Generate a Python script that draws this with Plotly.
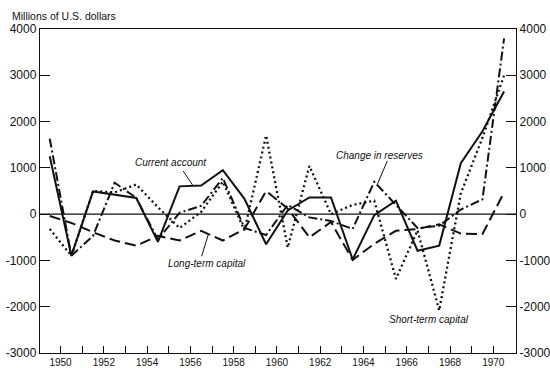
import plotly.graph_objects as go

years = list(range(1950, 1972))
current_account = [1250, -900, 490, 420, 350, -600, 600, 620, 950, 330, -650, 80,
                   360, 360, -980, -20, 290, -790, -680, 1100, 1790, 2650]
short_term = [-320, -900, 500, 470, 640, 150, -300, 50, 700, -350, 1700, -720,
              1040, 0, 200, 290, -1400, -350, -2080, 450, 1650, 3000]
reserves = [1630, -900, -470, 680, 350, -550, 30, 180, 780, -300, -450, 200,
            -70, -150, -320, 700, 200, -300, -250, 100, 320, 3800]
long_term = [-40, -190, -390, -570, -680, -470, -570, -360, -570, -320, 500, 120,
             -500, -170, -990, -640, -360, -320, -220, -420, -430, 470]

x = [y - 0.5 for y in years]
tick_years = list(range(1950, 1971))
tick_text = [str(t) if t % 2 == 0 else "" for t in tick_years]
y_ticks = list(range(-3000, 4001, 1000))
y_tick_text = [str(v) for v in y_ticks]

FONT = "Liberation Sans, Arial, Helvetica, sans-serif"
INK = "#111111"

fig = go.Figure()
fig.add_trace(go.Scatter(x=x, y=short_term, mode="lines", name="Short-term capital",
                         line=dict(color=INK, width=2.3, dash="2px,3px")))
fig.add_trace(go.Scatter(x=x, y=long_term, mode="lines", name="Long-term capital",
                         line=dict(color=INK, width=2, dash="11px,5px")))
fig.add_trace(go.Scatter(x=x, y=reserves, mode="lines", name="Change in reserves",
                         line=dict(color=INK, width=2, dash="9px,3px,2px,3px")))
fig.add_trace(go.Scatter(x=x, y=current_account, mode="lines", name="Current account",
                         line=dict(color=INK, width=2)))
# invisible trace to activate right axis
fig.add_trace(go.Scatter(x=[x[0]], y=[0], yaxis="y2", mode="markers",
                         marker=dict(opacity=0), showlegend=False, hoverinfo="skip"))

axis_common = dict(range=[-3000, 4000], tickvals=y_ticks, ticktext=y_tick_text,
                   ticks="inside", ticklen=10,
                   tickwidth=1.4, tickcolor=INK, showgrid=False, zeroline=False,
                   showline=True, linecolor=INK, linewidth=1.4, automargin=False,
                   tickfont=dict(family=FONT, size=12, color=INK))

fig.update_layout(
    width=550, height=368,
    margin=dict(l=40, r=34, t=29, b=15),
    paper_bgcolor="white", plot_bgcolor="white",
    showlegend=False,
    xaxis=dict(range=[1949.05, 1971.05], tickvals=tick_years, ticktext=tick_text,
               ticks="inside", ticklen=7, tickwidth=1.4, tickcolor=INK,
               ticklabelstandoff=0, automargin=False,
               showgrid=False, zeroline=False, showline=True, mirror=True,
               linecolor=INK, linewidth=1.4,
               tickfont=dict(family=FONT, size=10, color=INK)),
    yaxis=dict(side="left", **axis_common),
    yaxis2=dict(side="right", overlaying="y", **axis_common),
)

# zero line
fig.add_shape(type="line", xref="paper", x0=0, x1=1, yref="y", y0=0, y1=0,
              line=dict(color=INK, width=1.3))

fig.add_annotation(text="Millions of U.S. dollars", xref="paper", yref="paper",
                   x=-0.063, y=1.04, xanchor="left", yanchor="middle", showarrow=False,
                   font=dict(family=FONT, size=10.5, color=INK))

labels = [
    ("Current account", 1955.09, 1125),
    ("Change in reserves", 1964.74, 1269),
    ("Long-term capital", 1956.76, -1075),
    ("Short-term capital", 1967.04, -2280),
]
for txt, lx, ly in labels:
    fig.add_annotation(text="<i>" + txt + "</i>", x=lx, y=ly, xref="x", yref="y",
                       showarrow=False, font=dict(family=FONT, size=10, color=INK))

pointers = [
    (1955.67, 931, 1956.10, 630),
    (1965.10, 1146, 1964.61, 609),
    (1956.52, -910, 1956.82, -452),
]
for x0, y0, x1, y1 in pointers:
    fig.add_shape(type="line", xref="x", yref="y", x0=x0, y0=y0, x1=x1, y1=y1,
                  line=dict(color=INK, width=1))

fig.write_html("out.html", config={"displayModeBar": False},
               post_script="document.body.style.margin='0';document.body.style.overflow='hidden';")
